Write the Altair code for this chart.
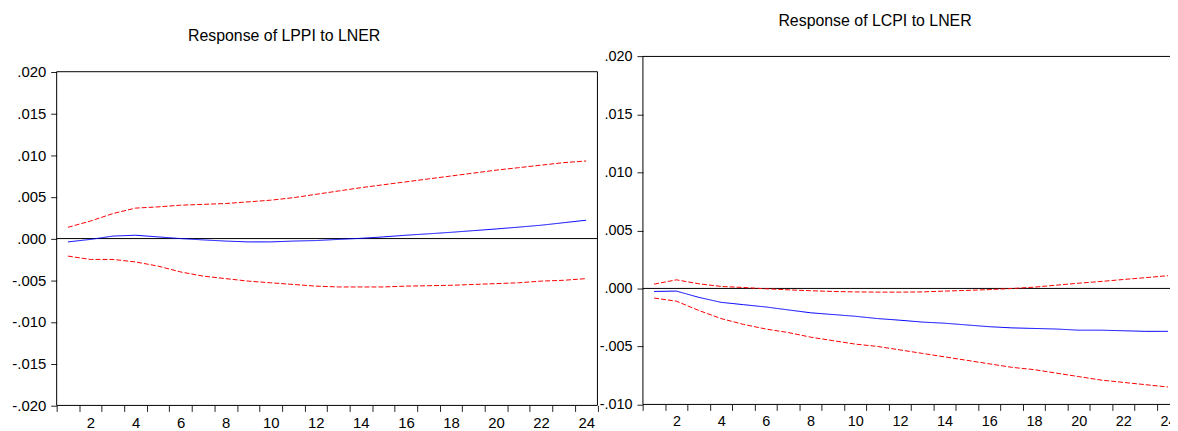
import altair as alt
import pandas as pd

# ---------------- data ----------------
periods = list(range(1, 25))

lppi_response = [-0.0004, -0.0001, 0.0003, 0.0004, 0.0002, 0.0000, -0.00016, -0.0003,
                 -0.0004, -0.0004, -0.0003, -0.00024, -0.0001, 0.00003, 0.0002, 0.0004,
                 0.00057, 0.00075, 0.00095, 0.00115, 0.00137, 0.0016, 0.0019, 0.0022]
lppi_upper = [0.00135, 0.0021, 0.0030, 0.00365, 0.0038, 0.0040, 0.0041, 0.0042,
              0.0044, 0.0046, 0.0049, 0.0053, 0.0057, 0.0061, 0.00645, 0.0068,
              0.00715, 0.0075, 0.00785, 0.0082, 0.0085, 0.0088, 0.0091, 0.0093]
lppi_lower = [-0.0021, -0.0025, -0.0025, -0.0028, -0.0033, -0.0040, -0.0045, -0.0048,
              -0.0051, -0.0053, -0.0055, -0.0057, -0.0058, -0.0058, -0.0058, -0.0057,
              -0.00565, -0.0056, -0.0055, -0.0054, -0.0053, -0.0051, -0.0050, -0.0048]

lcpi_response = [-0.00026, -0.00023, -0.00077, -0.0012, -0.0014, -0.0016, -0.00185, -0.0021,
                 -0.00225, -0.0024, -0.0026, -0.00274, -0.0029, -0.0030, -0.00315, -0.0033,
                 -0.0034, -0.00345, -0.0035, -0.0036, -0.0036, -0.00365, -0.0037, -0.0037]
lcpi_upper = [0.00037, 0.00074, 0.0004, 0.00017, 0.00008, -0.00003, -0.00012, -0.0002,
              -0.00026, -0.0003, -0.00032, -0.00032, -0.0003, -0.00023, -0.00017, -0.0001,
              -0.00001, 0.00011, 0.00028, 0.00045, 0.0006, 0.00077, 0.00093, 0.0011]
lcpi_lower = [-0.00083, -0.0011, -0.0019, -0.0026, -0.0031, -0.0035, -0.0038, -0.0042,
              -0.0045, -0.0048, -0.0050, -0.0053, -0.0056, -0.0059, -0.0062, -0.0065,
              -0.0068, -0.0070, -0.0073, -0.0076, -0.0079, -0.0081, -0.0083, -0.0085]

series_names = ["Response", "Upper band", "Lower band"]
panel_titles = ["Response of LPPI to LNER", "Response of LCPI to LNER"]
x_domain = [0.5, 24.5]
x_tick_values = [0.5 + i for i in range(25)]
lppi_domain = [-0.02, 0.02]
lcpi_domain = [-0.01, 0.02]
lppi_y_ticks = [-0.02, -0.015, -0.01, -0.005, 0.0, 0.005, 0.01, 0.015, 0.02]
lcpi_y_ticks = [-0.01, -0.005, 0.0, 0.005, 0.01, 0.015, 0.02]

# ---------------- layout ----------------
W, H = 1170, 423
FONT = "Liberation Sans"
X_LABEL_EXPR = "(datum.value + 0.5) % 2 == 0 ? format(datum.value + 0.5, 'd') : ''"
Y_LABEL_EXPR = "replace(replace(format(datum.value, '.3f'), '\u2212', '-'), '0.', '.')"


def long_df(resp, up, lo):
    rows = []
    for name, vals in zip(series_names, [resp, up, lo]):
        for t, v in zip(periods, vals):
            rows.append({"t": t, "v": v, "series": name})
    return pd.DataFrame(rows)


def panel(resp, up, lo, ydomain, yticks, title, xrange, yrange, x_off, y_off,
          title_xy, lab_size):
    half_unit = (xrange[1] - xrange[0]) / (x_domain[1] - x_domain[0]) / 2
    sx = alt.Scale(domain=x_domain, range=xrange, nice=False, zero=False)
    sy = alt.Scale(domain=ydomain, range=yrange, nice=False, zero=False)
    ax = alt.Axis(values=x_tick_values, labelExpr=X_LABEL_EXPR, labelOffset=half_unit,
                  tickSize=6, tickColor="#222", tickWidth=1, domain=False, grid=False,
                  orient="bottom", offset=x_off, title=None, labelFont=FONT,
                  labelFontSize=lab_size, labelColor="black", labelPadding=4,
                  labelOverlap=False, labelFlush=False, labelBound=False)
    ay = alt.Axis(values=yticks, labelExpr=Y_LABEL_EXPR, tickSize=6, tickColor="#222",
                  tickWidth=1, domain=False, grid=False, orient="left", offset=y_off,
                  title=None, labelFont=FONT, labelFontSize=lab_size, labelColor="black",
                  labelPadding=5, labelOverlap=False, labelFlush=False, labelBound=False)
    X = alt.X("t:Q", scale=sx, axis=ax)
    Y = alt.Y("v:Q", scale=sy, axis=ay)

    frame_df = pd.DataFrame({"t": [x_domain[0]], "t2": [x_domain[1]],
                             "v": [ydomain[0]], "v2": [ydomain[1]]})
    frame = alt.Chart(frame_df).mark_rect(fillOpacity=0, stroke="black", strokeWidth=1).encode(
        x=X, x2="t2:Q", y=Y, y2="v2:Q")

    zero_df = pd.DataFrame({"t": [x_domain[0]], "t2": [x_domain[1]], "v": [0.0]})
    zero = alt.Chart(zero_df).mark_rule(color="black", strokeWidth=1).encode(
        x=X, x2="t2:Q", y=Y)

    lines = alt.Chart(long_df(resp, up, lo)).mark_line(strokeWidth=1).encode(
        x=X, y=Y,
        color=alt.Color("series:N", legend=None,
                        scale=alt.Scale(domain=series_names,
                                        range=["#0000FF", "#FF0000", "#FF0000"])),
        strokeDash=alt.StrokeDash("series:N", legend=None,
                                  scale=alt.Scale(domain=series_names,
                                                  range=[[1, 0], [5, 2], [5, 2]])),
    )

    ttl = alt.Chart(pd.DataFrame({"label": [title]})).mark_text(
        font=FONT, fontSize=16, color="black", align="center", baseline="alphabetic"
    ).encode(x=alt.value(title_xy[0]), y=alt.value(title_xy[1]), text="label:N")

    return alt.layer(frame, zero, lines, ttl)


left = panel(lppi_response, lppi_upper, lppi_lower, lppi_domain, lppi_y_ticks,
             panel_titles[0], xrange=[49, 593.5], yrange=[398.7, 62.7],
             x_off=398.7 - H, y_off=-49, title_xy=(278, 32), lab_size=15)
right = panel(lcpi_response, lcpi_upper, lcpi_lower, lcpi_domain, lcpi_y_ticks,
              panel_titles[1], xrange=[639.3, 1179.3], yrange=[397.7, 47.3],
              x_off=397.7 - H, y_off=-639.3, title_xy=(873, 17), lab_size=14.5)

chart = alt.layer(left, right).resolve_scale(
    x="independent", y="independent"
).resolve_axis(
    x="independent", y="independent"
).properties(
    width=W, height=H, autosize=alt.AutoSizeParams(type="none"), padding=0,
    background="white"
).configure_view(strokeWidth=0)

chart.save("out.html", embed_options={"renderer": "svg", "actions": False})
